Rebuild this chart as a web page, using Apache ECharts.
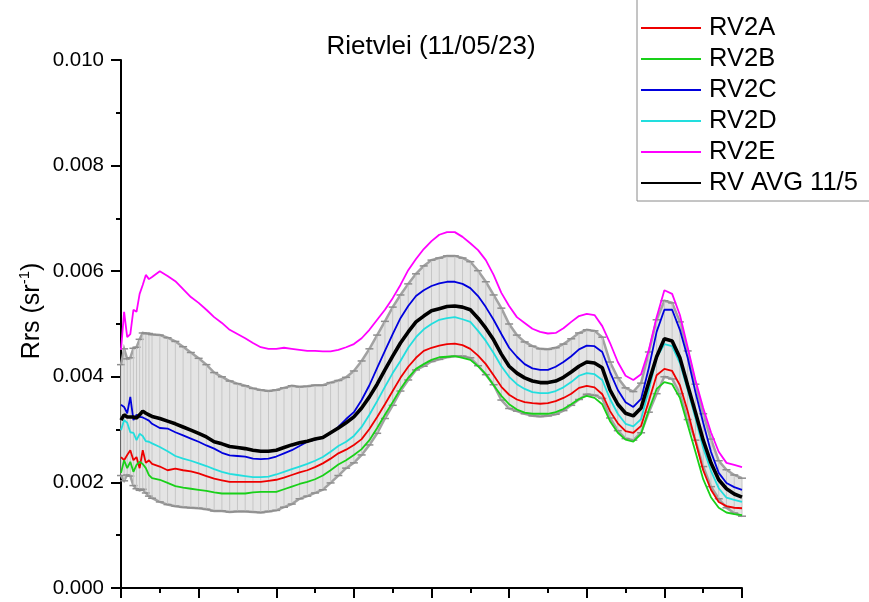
<!DOCTYPE html>
<html><head><meta charset="utf-8">
<script src="https://cdn.jsdelivr.net/npm/echarts@6/dist/echarts.min.js"></script>
<style>html,body{margin:0;padding:0;background:#fff}#c{width:869px;height:602px}</style>
</head><body><div id="c"></div>
<script>
// Wavelength (nm)
const wavelengths = [400,402,404,406,408,410,412,414,416,418,420,
  425,430,435,440,445,450,455,460,465,470,475,480,485,490,495,500,505,510,515,520,525,530,535,540,545,550,
  555,560,565,570,575,580,585,590,595,600,605,610,615,620,625,630,635,640,645,650,655,660,665,670,675,680,
  685,690,695,700,705,710,715,720,725,730,735,740,745,750,755,760,765,770,775,780,785,790,795,800];

// Rrs (sr^-1)
const rv2a = [0.00248,0.00242,0.00252,0.00261,0.00242,0.00248,0.00227,0.00261,0.00237,0.00242,0.00235,
  0.00230,0.00223,0.00226,0.00223,0.00221,0.00217,0.00212,0.00207,0.00204,0.00201,0.00201,0.00201,0.00201,0.00201,0.00203,0.00205,0.00209,0.00214,0.00219,0.00223,0.00229,0.00236,0.00245,0.00255,0.00262,0.00271,
  0.00282,0.00301,0.00324,0.00348,0.00373,0.00398,0.00419,0.00436,0.00449,0.00455,0.00459,0.00462,0.00463,0.00460,0.00453,0.00440,0.00424,0.00403,0.00381,0.00366,0.00357,0.00352,0.00350,0.00349,0.00350,0.00354,
  0.00360,0.00368,0.00379,0.00383,0.00380,0.00367,0.00335,0.00312,0.00297,0.00294,0.00307,0.00354,0.00403,0.00415,0.00411,0.00384,0.00335,0.00278,0.00223,0.00186,0.00163,0.00155,0.00152,0.00151];

const rv2b = [0.00218,0.00242,0.00227,0.00239,0.00220,0.00233,0.00239,0.00235,0.00227,0.00214,0.00208,
  0.00205,0.00199,0.00193,0.00190,0.00188,0.00186,0.00184,0.00181,0.00179,0.00179,0.00179,0.00179,0.00181,0.00182,0.00182,0.00182,0.00187,0.00192,0.00197,0.00201,0.00206,0.00213,0.00223,0.00234,0.00242,0.00252,
  0.00263,0.00280,0.00303,0.00328,0.00352,0.00377,0.00398,0.00415,0.00424,0.00432,0.00437,0.00438,0.00439,0.00436,0.00432,0.00420,0.00405,0.00384,0.00364,0.00348,0.00338,0.00332,0.00330,0.00330,0.00330,0.00333,
  0.00339,0.00348,0.00358,0.00364,0.00360,0.00348,0.00316,0.00294,0.00281,0.00277,0.00292,0.00337,0.00377,0.00390,0.00386,0.00360,0.00309,0.00258,0.00206,0.00172,0.00152,0.00143,0.00140,0.00138];

const rv2c = [0.00347,0.00343,0.00331,0.00362,0.00318,0.00328,0.00324,0.00323,0.00320,0.00317,0.00311,
  0.00303,0.00302,0.00295,0.00289,0.00283,0.00277,0.00270,0.00264,0.00256,0.00251,0.00250,0.00249,0.00245,0.00244,0.00245,0.00249,0.00255,0.00261,0.00269,0.00277,0.00281,0.00285,0.00293,0.00305,0.00320,0.00333,
  0.00356,0.00384,0.00417,0.00449,0.00481,0.00511,0.00534,0.00553,0.00564,0.00572,0.00577,0.00580,0.00580,0.00576,0.00568,0.00553,0.00532,0.00508,0.00481,0.00455,0.00438,0.00424,0.00416,0.00413,0.00413,0.00419,
  0.00428,0.00439,0.00452,0.00459,0.00458,0.00447,0.00409,0.00375,0.00352,0.00343,0.00358,0.00417,0.00485,0.00527,0.00527,0.00489,0.00436,0.00371,0.00313,0.00258,0.00218,0.00199,0.00191,0.00186];

const rv2d = [0.00299,0.00318,0.00313,0.00295,0.00294,0.00280,0.00292,0.00288,0.00278,0.00277,0.00274,
  0.00267,0.00259,0.00250,0.00245,0.00241,0.00236,0.00231,0.00225,0.00220,0.00216,0.00214,0.00212,0.00210,0.00210,0.00211,0.00215,0.00220,0.00225,0.00230,0.00235,0.00241,0.00248,0.00258,0.00269,0.00277,0.00288,
  0.00305,0.00328,0.00354,0.00381,0.00407,0.00430,0.00455,0.00475,0.00490,0.00500,0.00508,0.00511,0.00513,0.00509,0.00504,0.00487,0.00468,0.00445,0.00420,0.00400,0.00386,0.00377,0.00371,0.00369,0.00369,0.00373,
  0.00380,0.00390,0.00402,0.00407,0.00405,0.00394,0.00358,0.00330,0.00311,0.00306,0.00320,0.00375,0.00436,0.00462,0.00458,0.00426,0.00375,0.00322,0.00265,0.00222,0.00189,0.00171,0.00167,0.00163];

const rv2e = [0.00451,0.00523,0.00475,0.00481,0.00527,0.00523,0.00557,0.00574,0.00593,0.00585,0.00589,
  0.00600,0.00591,0.00581,0.00566,0.00551,0.00540,0.00527,0.00513,0.00502,0.00489,0.00481,0.00473,0.00464,0.00456,0.00453,0.00453,0.00455,0.00453,0.00451,0.00449,0.00449,0.00448,0.00448,0.00451,0.00456,0.00462,
  0.00473,0.00489,0.00508,0.00527,0.00549,0.00574,0.00602,0.00623,0.00642,0.00657,0.00669,0.00674,0.00674,0.00665,0.00653,0.00640,0.00621,0.00593,0.00559,0.00534,0.00513,0.00502,0.00491,0.00485,0.00482,0.00483,
  0.00492,0.00504,0.00515,0.00519,0.00517,0.00496,0.00464,0.00428,0.00402,0.00394,0.00405,0.00451,0.00513,0.00564,0.00557,0.00517,0.00456,0.00394,0.00341,0.00295,0.00258,0.00237,0.00233,0.00229];

const rvAvg = [0.00318,0.00328,0.00324,0.00324,0.00324,0.00322,0.00328,0.00335,0.00331,0.00328,0.00325,
  0.00321,0.00316,0.00311,0.00305,0.00299,0.00293,0.00286,0.00277,0.00273,0.00268,0.00266,0.00264,0.00261,0.00259,0.00259,0.00261,0.00266,0.00271,0.00275,0.00278,0.00282,0.00285,0.00294,0.00303,0.00313,0.00324,
  0.00341,0.00362,0.00386,0.00413,0.00439,0.00464,0.00485,0.00504,0.00515,0.00525,0.00529,0.00533,0.00534,0.00532,0.00527,0.00511,0.00492,0.00470,0.00443,0.00420,0.00407,0.00398,0.00392,0.00389,0.00389,0.00392,
  0.00399,0.00409,0.00420,0.00428,0.00426,0.00417,0.00375,0.00348,0.00331,0.00326,0.00341,0.00390,0.00438,0.00472,0.00468,0.00436,0.00384,0.00333,0.00280,0.00237,0.00205,0.00188,0.00178,0.00172];

// standard deviation of the average (error bars)
const rvSd = [0.00105,0.00125,0.00110,0.00112,0.00130,0.00134,0.00143,0.00148,0.00151,0.00154,0.00155,
  0.00158,0.00158,0.00156,0.00152,0.00147,0.00142,0.00137,0.00131,0.00127,0.00124,0.00121,0.00119,0.00117,0.00116,0.00114,0.00114,0.00113,0.00112,0.00106,0.00104,0.00102,0.00099,0.00095,0.00090,0.00086,0.00087,
  0.00089,0.00091,0.00093,0.00092,0.00093,0.00091,0.00091,0.00091,0.00095,0.00096,0.00096,0.00096,0.00095,0.00093,0.00091,0.00090,0.00088,0.00085,0.00087,0.00080,0.00072,0.00068,0.00066,0.00064,0.00063,0.00063,
  0.00063,0.00063,0.00063,0.00061,0.00061,0.00058,0.00053,0.00050,0.00048,0.00046,0.00047,0.00057,0.00070,0.00072,0.00072,0.00068,0.00065,0.00053,0.00050,0.00045,0.00036,0.00036,0.00036,0.00036];

const seriesNames = ['RV2A','RV2B','RV2C','RV2D','RV2E','RV AVG 11/5'];
const seriesColors = ['#ee0000','#19d019','#0000dd','#22dede','#ff00ff','#000000'];
const seriesValues = [rv2a, rv2b, rv2c, rv2d, rv2e, rvAvg];
const yTicks = [0, 0.002, 0.004, 0.006, 0.008, 0.010];

const FONT = 'Liberation Sans, Arial, Helvetica, sans-serif';
const chart = echarts.init(document.getElementById('c'), null, {renderer: 'canvas'});

function pairs(vals) { return wavelengths.map((w, i) => [w, vals[i]]); }

const lineSeries = seriesNames.map((name, k) => ({
  name: name,
  type: 'line',
  data: pairs(seriesValues[k]),
  symbol: 'none',
  smooth: false,
  z: k === 5 ? 10 : 5,
  lineStyle: {color: seriesColors[k], width: k === 5 ? 3.6 : 1.8},
  itemStyle: {color: seriesColors[k]},
  emphasis: {disabled: true}
}));

const bandSeries = {
  type: 'custom',
  silent: true,
  z: 1,
  data: pairs(rvAvg),
  renderItem: function (params, api) {
    if (params.dataIndex !== 0) return null;
    const up = [], lo = [];
    for (let i = 0; i < wavelengths.length; i++) {
      up.push(api.coord([wavelengths[i], rvAvg[i] + rvSd[i]]));
      lo.push(api.coord([wavelengths[i], rvAvg[i] - rvSd[i]]));
    }
    return {type: 'group', children: [
      {type: 'polygon', shape: {points: up.concat(lo.slice().reverse())}, style: {fill: '#e4e4e4'}},
      {type: 'polyline', shape: {points: up}, style: {stroke: '#a2a2a2', lineWidth: 2.5, fill: null}},
      {type: 'polyline', shape: {points: lo}, style: {stroke: '#a2a2a2', lineWidth: 2.5, fill: null}}
    ]};
  }
};

const barSeries = {
  type: 'custom',
  silent: true,
  z: 2,
  data: wavelengths.map((w, i) => [w, rvAvg[i], rvSd[i]]),
  renderItem: function (params, api) {
    const x = api.value(0), m = api.value(1), s = api.value(2);
    const t = api.coord([x, m + s]), b = api.coord([x, m - s]);
    return {type: 'group', children: [
      {type: 'line', shape: {x1: t[0], y1: t[1], x2: b[0], y2: b[1]}, style: {stroke: '#c6c6c6', lineWidth: 1}},
      {type: 'line', shape: {x1: t[0] - 4, y1: t[1], x2: t[0] + 4, y2: t[1]}, style: {stroke: '#8e8e8e', lineWidth: 1.5}},
      {type: 'line', shape: {x1: b[0] - 4, y1: b[1], x2: b[0] + 4, y2: b[1]}, style: {stroke: '#8e8e8e', lineWidth: 1.5}}
    ]};
  }
};

chart.setOption({
  animation: false,
  backgroundColor: '#ffffff',
  textStyle: {fontFamily: FONT},
  grid: {left: 121, right: 127, top: 60, bottom: 14, containLabel: false},
  xAxis: {
    type: 'value', min: 400, max: 800, interval: 50,
    axisLine: {show: true, lineStyle: {color: '#000', width: 2}},
    axisTick: {show: true, length: 10, inside: false, lineStyle: {color: '#000', width: 2}},
    minorTick: {show: true, splitNumber: 2, length: 5, lineStyle: {color: '#000', width: 2}},
    axisLabel: {show: false},
    splitLine: {show: false}
  },
  yAxis: {
    type: 'value', min: yTicks[0], max: yTicks[yTicks.length - 1], interval: 0.002,
    axisLine: {show: true, lineStyle: {color: '#000', width: 2}},
    axisTick: {show: true, length: 10, inside: false, lineStyle: {color: '#000', width: 2}},
    minorTick: {show: true, splitNumber: 2, length: 5, lineStyle: {color: '#000', width: 2}},
    axisLabel: {show: true, fontSize: 20.5, color: '#000', margin: 17, fontFamily: FONT,
      formatter: v => v.toFixed(3)},
    splitLine: {show: false}
  },
  legend: {
    orient: 'vertical', left: 637, top: -20,
    padding: [35, 80, 5, 3],
    itemWidth: 60, itemHeight: 14, itemGap: 5,
    borderColor: '#8a8a8a', borderWidth: 1,
    backgroundColor: '#fff',
    itemStyle: {color: 'rgba(0,0,0,0)', borderColor: 'rgba(0,0,0,0)', borderWidth: 0, opacity: 0},
    textStyle: {fontSize: 25.5, color: '#000', fontFamily: FONT, padding: [0, 0, 0, 3]},
    data: seriesNames,
    selectedMode: false
  },
  graphic: [
    {type: 'text', x: 431, y: 47, style: {text: 'Rietvlei (11/05/23)', fontSize: 26, fontFamily: FONT, fill: '#000', align: 'center', verticalAlign: 'middle'}},
    {type: 'text', x: 31, y: 311, rotation: Math.PI / 2, style: {
      text: '{a|Rrs (sr}{b|-1}{a|)}', align: 'center', verticalAlign: 'middle', fill: '#000',
      rich: {a: {fontSize: 25, fontFamily: FONT, lineHeight: 28, verticalAlign: 'bottom'},
             b: {fontSize: 15, fontFamily: FONT, lineHeight: 28, verticalAlign: 'top'}}
    }}
  ],
  series: [bandSeries, barSeries].concat(lineSeries)
});
</script>
</body></html>
